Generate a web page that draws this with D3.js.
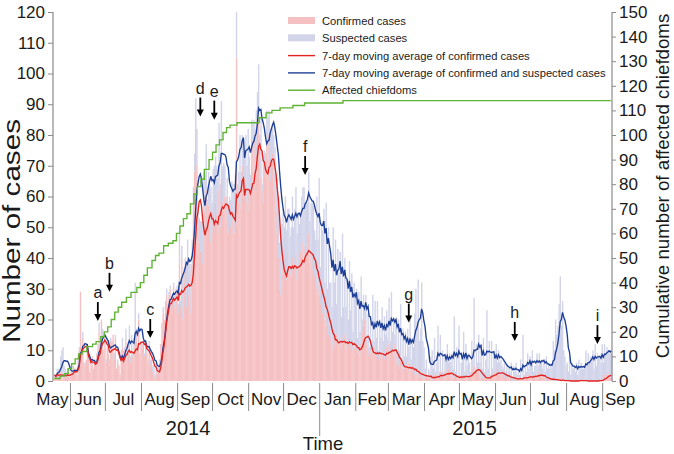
<!DOCTYPE html>
<html><head><meta charset="utf-8">
<script src="https://cdn.jsdelivr.net/npm/d3@7"></script>
<style>
body{margin:0;background:#fff}
svg{display:block}
text{font-family:Arial,"Liberation Sans",sans-serif;fill:#1a1a1a}
</style>
</head><body>
<svg id="chart" width="674" height="454"></svg>
<script>
// ---------------- DATA ----------------
const firstDay = "2014-05-18";   // daily series start
// daily confirmed cases (one row per week)
const confirmed = [
2,1,3,2,1,3,2, 1,2,2,1,3,2,2, 3,2,5,4,3,2,6, 10,29,8,14,6,5,7,
9,7,3,5,8,4,6, 5,9,10,16,12,20,13, 8,14,6,11,9,5,13, 12,15,7,14,4,6,5,
2,9,11,8,10,13,7, 9,12,6,10,8,11,12, 14,10,20,9,12,11,13, 8,12,9,6,10,5,7,
3,2,1,4,2,3,6, 12,18,22,20,25,28,24, 27,30,22,26,31,24,28, 30,22,38,24,40,20,32,
36,24,40,28,36,22,38, 55,68,82,70,50,45,42, 42,38,60,55,62,50,57, 52,45,48,55,50,58,54,
48,62,50,66,58,55,60, 52,60,48,55,50,58,52, 48,55,105,50,58,62,56, 70,60,66,64,58,62,55,
62,70,78,65,80,74,82, 85,75,66,62,58,70,66, 78,72,80,65,70,74,66, 62,55,48,40,30,28,35,
38,35,40,33,42,37,35, 34,40,36,38,41,33,37, 36,42,40,45,38,44,42, 40,48,38,42,36,40,34,
36,30,32,28,25,30,22, 26,20,18,22,15,18,14, 12,10,14,11,15,13,12, 14,11,13,12,15,10,13,
12,14,11,13,10,12,11, 10,9,11,8,12,16,18, 20,14,12,10,8,9,7, 10,9,11,8,10,7,9,
9,8,10,7,9,11,8, 12,9,11,10,8,12,9, 6,5,4,7,3,5,4, 4,5,3,6,4,3,5,
3,2,4,2,3,1,2, 2,1,3,1,2,1,1, 1,2,0,1,2,1,2, 2,1,3,2,1,2,3,
3,2,4,1,3,2,1, 1,2,1,0,2,1,2, 1,2,1,2,1,1,2, 2,3,4,5,3,4,4,
3,2,1,1,0,1,1, 1,2,1,1,3,2,2, 3,2,4,2,3,2,3, 2,1,2,1,1,2,1,
1,0,1,1,0,1,1, 1,1,0,1,2,1,1, 1,2,1,2,1,1,2, 2,1,3,2,2,1,2,
1,1,0,1,1,0,1, 0,1,0,0,1,0,0, 0,0,1,0,0,0,0, 0,0,0,0,0,0,0,
0,0,0,1,0,0,0, 0,0,0,0,0,0,0, 0,0,0,0,0,0,1, 0,0,1,2,1,2,3,
2,1,2
];
// daily suspected cases (stacked on confirmed)
const suspected = [
0,0,1,2,3,5,8, 10,3,2,2,1,1,0, 0,1,0,0,1,0,2, 1,0,1,2,0,1,0,
1,2,0,1,0,0,1, 1,0,2,3,1,0,4, 2,0,1,3,0,2,1, 1,0,2,1,0,1,0,
0,1,3,2,1,4,3, 3,6,2,5,1,3,20, 3,1,2,0,1,2,0, 1,0,2,1,3,2,1,
2,3,1,2,1,2,1, 0,1,2,0,1,2,1, 2,1,3,2,1,4,2, 1,3,12,2,4,15,5,
4,14,6,10,2,16,8, 8,6,10,12,5,8,10, 10,14,8,12,15,9,11, 12,18,10,14,20,15,16,
18,22,14,25,12,16,10, 8,6,10,5,9,7,12, 16,12,15,14,10,18,12, 10,14,8,16,12,20,18,
5,15,6,20,2,14,12, 18,5,20,2,15,5,8, 10,14,8,16,12,10,14, 14,12,18,20,15,22,16,
18,15,20,16,14,19,12, 16,20,14,18,22,15,17, 15,12,20,18,25,14,16, 18,20,14,16,22,17,15,
10,30,14,38,12,20,27, 30,12,40,8,35,14,18, 12,40,18,35,10,30,23, 28,10,35,12,25,14,20,
8,25,12,22,6,20,16, 20,5,18,8,22,4,10, 4,14,2,12,3,10,4, 18,4,15,6,16,3,9,
5,16,3,14,6,12,6, 15,4,18,6,12,3,11, 4,15,6,18,3,12,4, 12,3,14,5,16,4,9,
8,20,26,15,30,12,15, 30,12,8,3,5,1,3, 2,6,10,3,12,2,4, 16,2,12,1,9,1,5,
4,10,2,8,3,7,3, 20,1,10,2,16,1,4, 6,14,2,10,4,8,4, 1,10,3,22,1,8,2,
12,4,10,3,14,2,6, 22,2,12,1,10,2,6, 4,10,2,8,3,5,2, 2,6,1,4,2,3,2,
5,1,4,2,6,1,2, 1,6,1,14,0,4,2, 8,2,7,4,9,2,3, 3,8,2,7,4,6,2,
6,2,8,3,5,4,4, 6,12,10,20,14,18,25, 34,18,25,10,8,5,6, 3,8,2,6,4,5,3,
6,2,7,3,6,4,4, 4,10,5,9,6,8,7, 10,4,12,5,9,8,7, 6,12,5,10,8,9,7,
7,8,7
];
// cumulative affected chiefdoms: day index (from firstDay) where count changes
const chiefdomDay   = [0,5,9,12,15,18,21,24,28,33,36,40,43,46,49,52,55,58,62,66,71,74,77,80,84,87,90,94,98,102,105,108,111,114,117,120,123,126,129,133,136,139,142,145,148,151,157,176,182,187,194,205,215,248,478];
const chiefdomCount = [1,2,3,5,7,9,11,12,14,15,16,18,20,22,25,28,30,32,34,36,38,40,43,46,49,51,52,55,56,57,60,63,66,68,72,76,79,82,86,90,93,96,98,101,103,104,105,107,109,110,111,112,113,114,114];

const leftTicks  = [0,10,20,30,40,50,60,70,80,90,100,110,120];
const rightTicks = [0,10,20,30,40,50,60,70,80,90,100,110,120,130,140,150];
const monthNames = ["May","Jun","Jul","Aug","Sep","Oct","Nov","Dec","Jan","Feb","Mar","Apr","May","Jun","Jul","Aug","Sep"];
const yearLabels = ["2014","2015"];
const yearLabelDates = ["2014-09-10","2015-05-14"];

const annotLabels = ["a","b","c","d","e","f","g","h","i"];
const annotDates  = ["2014-06-24","2014-07-04","2014-08-08","2014-09-20","2014-10-02","2014-12-19","2015-03-18","2015-06-17","2015-08-27"];
const annotTip    = [19.5,29,14,86,85,67,19,13,12];   // arrow tip, in cases

const legendItems = [
  {label:"Confirmed cases", type:"rect", color:"#f5c0c2"},
  {label:"Suspected cases", type:"rect", color:"#d2d4ea"},
  {label:"7-day moving average of confirmed cases", type:"line", color:"#e2231f"},
  {label:"7-day moving average of confirmed and suspected cases", type:"line", color:"#1d3e96"},
  {label:"Affected chiefdoms", type:"line", color:"#5fb234"}
];

// ---------------- CHART ----------------
const parse = d3.timeParse("%Y-%m-%d");
const svg = d3.select("#chart");
const X0 = 53, X1 = 612, Y0 = 381, YT = 12;

const x = d3.scaleTime().domain([parse("2014-05-17"), parse("2015-09-09")]).range([X0, X1]);
const yL = d3.scaleLinear().domain([0,120]).range([Y0, YT]);
const yR = d3.scaleLinear().domain([0,150]).range([Y0, YT]);

const start = parse(firstDay);
const days = confirmed.map((c,i)=>({
  date: d3.timeDay.offset(start, i),
  c: c, s: suspected[i], t: c + suspected[i]
}));
function ma(key){
  return days.map((d,i)=>{
    const w = days.slice(Math.max(0,i-6), i+1);
    return {date:d.date, v:d3.mean(w, e=>e[key])};
  });
}
const maC = ma("c"), maT = ma("t");
const half = d => x(d3.timeHour.offset(d, 12));

// bars
const gb = svg.append("g");
days.forEach(d=>{
  const x0 = x(d.date), w = x(d3.timeDay.offset(d.date,1)) - x0 + 0.25;
  if (d.s > 0) gb.append("rect").attr("x",x0).attr("width",w)
     .attr("y",yL(d.t)).attr("height",yL(d.c)-yL(d.t)).attr("fill","#d2d4ea");
  if (d.c > 0) gb.append("rect").attr("x",x0).attr("width",w)
     .attr("y",yL(d.c)).attr("height",Y0-yL(d.c)).attr("fill","#f5c0c2");
});

// lines
const lineL = d3.line().x(d=>half(d.date)).y(d=>yL(d.v));
svg.append("path").datum(maT).attr("d",lineL).attr("fill","none").attr("stroke","#1d3e96").attr("stroke-width",1.35);
svg.append("path").datum(maC).attr("d",lineL).attr("fill","none").attr("stroke","#e2231f").attr("stroke-width",1.35);

const chief = chiefdomDay.map((k,i)=>({date:d3.timeDay.offset(start,k), v:chiefdomCount[i]}));
svg.append("path").datum(chief)
  .attr("d", d3.line().curve(d3.curveStepAfter).x(d=>x(d.date)).y(d=>yR(d.v)))
  .attr("fill","none").attr("stroke","#5fb234").attr("stroke-width",1.35);

// axes
const axL = svg.append("g").attr("transform",`translate(${X0},0)`)
  .call(d3.axisLeft(yL).tickValues(leftTicks).tickSize(5).tickPadding(3));
const axR = svg.append("g").attr("transform",`translate(${X1},0)`)
  .call(d3.axisRight(yR).tickValues(rightTicks).tickSize(4).tickPadding(3));
[axL,axR].forEach(a=>{
  a.select(".domain").attr("stroke","#8a8a8a").attr("stroke-width",1.2).attr("d",`M0,${YT}V${Y0}`);
  a.selectAll(".tick line").attr("stroke","#8a8a8a");
  a.selectAll(".tick text").attr("font-size",17).attr("fill","#1a1a1a")
    .attr("font-family","Arial, 'Liberation Sans', sans-serif");
});

// month separators and labels
const monthStarts = d3.timeMonth.range(parse("2014-05-01"), parse("2015-10-01"));
const gx = svg.append("g");
monthStarts.forEach((m,i)=>{
  const next = d3.timeMonth.offset(m,1);
  if (i>0) {
    const isJan = m.getMonth()===0;
    gx.append("line").attr("x1",x(m)).attr("x2",x(m)).attr("y1",Y0+2).attr("y2", isJan?436:411)
      .attr("stroke","#8a8a8a").attr("stroke-width",1);
  }
  gx.append("text").attr("x",(x(m)+x(next))/2).attr("y",405).attr("text-anchor","middle")
    .attr("font-size",17).text(monthNames[i]);
});
yearLabels.forEach((t,i)=>{
  svg.append("text").attr("x",x(parse(yearLabelDates[i]))).attr("y",435).attr("text-anchor","middle")
    .attr("font-size",20).text(t);
});
svg.append("text").attr("x",323).attr("y",450).attr("text-anchor","middle").attr("font-size",18.5).text("Time");

// axis titles
svg.append("text").attr("transform","translate(20,231) rotate(-90)").attr("text-anchor","middle")
  .attr("font-size",23).attr("textLength",224).attr("lengthAdjust","spacingAndGlyphs").text("Number of cases");
svg.append("text").attr("transform","translate(669,186) rotate(-90)").attr("text-anchor","middle")
  .attr("font-size",18.7).text("Cumulative number of affected chiefdoms");

// annotations
const ga = svg.append("g");
annotLabels.forEach((lab,i)=>{
  const xd = half(parse(annotDates[i]));
  const tip = yL(annotTip[i]);
  ga.append("line").attr("x1",xd).attr("x2",xd).attr("y1",tip-19).attr("y2",tip-6)
    .attr("stroke","#000").attr("stroke-width",1.8);
  ga.append("path").attr("d",`M${xd-3.5},${tip-7}L${xd+3.5},${tip-7}L${xd},${tip}Z`).attr("fill","#000");
  ga.append("text").attr("x",xd).attr("y",tip-23).attr("text-anchor","middle").attr("font-size",16).text(lab);
});

// legend
const gl = svg.append("g").attr("transform","translate(288,21)");
legendItems.forEach((it,i)=>{
  const g = gl.append("g").attr("transform",`translate(0,${i*17.3})`);
  if (it.type==="rect") g.append("rect").attr("x",0).attr("y",-4).attr("width",27).attr("height",7).attr("fill",it.color);
  else g.append("line").attr("x1",0).attr("x2",27).attr("y1",0).attr("y2",0).attr("stroke",it.color).attr("stroke-width",1.4);
  g.append("text").attr("x",34).attr("y",4).attr("font-size",11.2).text(it.label);
});
</script>
</body></html>
